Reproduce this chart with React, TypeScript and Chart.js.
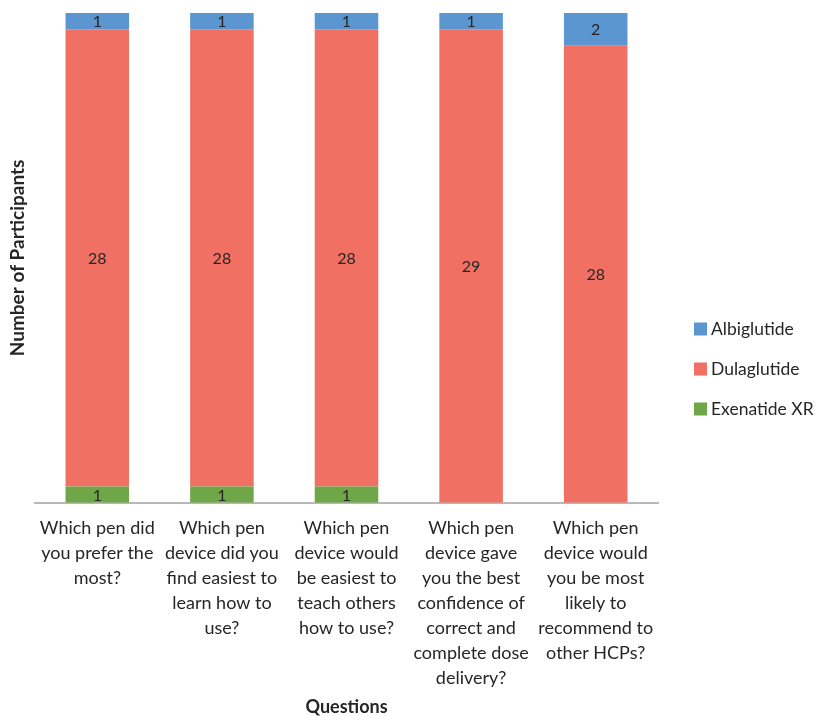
import React, { useEffect, useRef } from "react";
import { Chart, registerables } from "chart.js";

Chart.register(...registerables);

const categories: string[][] = [
  ["Which pen did", "you prefer the", "most?"],
  ["Which pen", "device did you", "find easiest to", "learn how to", "use?"],
  ["Which pen", "device would", "be easiest to", "teach others", "how to use?"],
  ["Which pen", "device gave", "you the best", "confidence of", "correct and", "complete dose", "delivery?"],
  ["Which pen", "device would", "you be most", "likely to", "recommend to", "other HCPs?"],
];
const exenatide = [1, 1, 1, 0, 0];
const dulaglutide = [28, 28, 28, 29, 28];
const albiglutide = [1, 1, 1, 1, 2];

const FONT = "Lato, 'Open Sans', sans-serif";
const TEXT = "#262626";

const valueLabels = {
  id: "valueLabels",
  afterDatasetsDraw(chart: any) {
    const ctx = chart.ctx;
    ctx.save();
    ctx.font = `16px ${FONT}`;
    ctx.fillStyle = TEXT;
    ctx.textAlign = "center";
    ctx.textBaseline = "middle";
    chart.data.datasets.forEach((ds: any, di: number) => {
      const meta = chart.getDatasetMeta(di);
      meta.data.forEach((bar: any, i: number) => {
        const v = ds.data[i];
        if (!v) return;
        const y = (bar.y + bar.base) / 2;
        ctx.fillText(String(v), bar.x, y + 1);
      });
    });
    ctx.restore();
  },
};

const sideLegend = {
  id: "sideLegend",
  afterDraw(chart: any) {
    const ctx = chart.ctx;
    const ds = chart.data.datasets.slice().reverse();
    const x = chart.chartArea.right + 36;
    const cy = chart.height / 2 + 11;
    const gap = 40;
    ctx.save();
    ctx.font = `17.5px ${FONT}`;
    ctx.textBaseline = "middle";
    ctx.textAlign = "left";
    ds.forEach((d: any, i: number) => {
      const y = cy + (i - (ds.length - 1) / 2) * gap;
      ctx.fillStyle = d.backgroundColor;
      ctx.fillRect(x, y - 6.5, 13, 13);
      ctx.fillStyle = TEXT;
      ctx.fillText(d.label, x + 17, y);
    });
    ctx.restore();
  },
};

export default function App() {
  const ref = useRef<HTMLCanvasElement>(null);
  useEffect(() => {
    if (!ref.current) return;
    const chart = new Chart(ref.current, {
      type: "bar",
      data: {
        labels: categories,
        datasets: [
          { label: "Exenatide XR", data: exenatide, backgroundColor: "#6FA748" },
          { label: "Dulaglutide", data: dulaglutide, backgroundColor: "#F07064" },
          { label: "Albiglutide", data: albiglutide, backgroundColor: "#5B96D0" },
        ],
      },
      options: {
        animation: false,
        responsive: false,
        maintainAspectRatio: false,
        layout: { padding: { top: 13, left: 8, right: 160, bottom: 0 } },
        plugins: {
          tooltip: { enabled: false },
          legend: { display: false },
        },
        scales: {
          x: {
            stacked: true,
            grid: { display: false },
            border: { display: true, color: "#B8B8B8", width: 2 },
            ticks: {
              color: TEXT,
              font: { family: FONT, size: 18, lineHeight: 1.39 },
              padding: 5,
              maxRotation: 0,
              autoSkip: false,
            },
            title: {
              display: true,
              text: "Questions",
              color: TEXT,
              font: { family: FONT, size: 18, weight: "bold", lineHeight: 1 },
              padding: { top: 2, bottom: 0 },
            },
          },
          y: {
            stacked: true,
            min: 0,
            max: 30,
            grid: { display: false },
            border: { display: false },
            ticks: { display: false, padding: 0 },
            title: {
              display: true,
              text: "Number of Participants",
              color: TEXT,
              font: { family: FONT, size: 19, weight: "bold", lineHeight: 1 },
              padding: { top: 0, bottom: 0 },
            },
          },
        },
        datasets: {
          bar: { categoryPercentage: 1, barPercentage: 0.51 },
        },
      } as any,
      plugins: [valueLabels, sideLegend],
    });
    return () => chart.destroy();
  }, []);
  return (
    <div style={{ position: "fixed", left: 0, top: 0, width: 818, height: 716, background: "#fff" }}>
      <canvas ref={ref} width={818} height={716} style={{ width: 818, height: 716 }} />
    </div>
  );
}
